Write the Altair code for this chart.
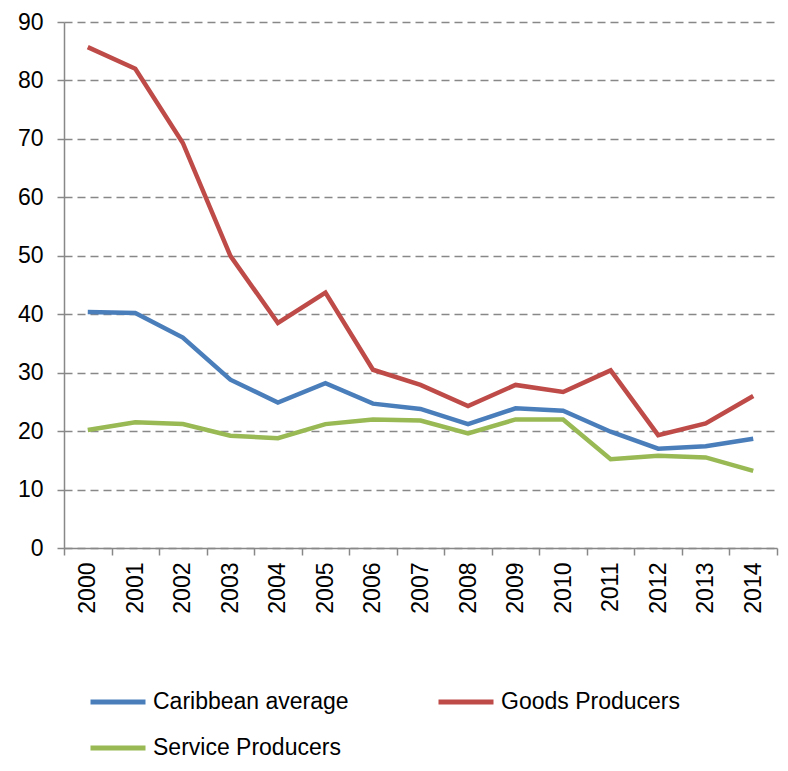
import altair as alt
import pandas as pd

years = [str(y) for y in range(2000, 2015)]
caribbean = [40.4, 40.2, 36.0, 28.8, 24.9, 28.2, 24.7, 23.8, 21.2, 23.9, 23.5, 19.9, 17.0, 17.4, 18.7]
goods = [85.7, 82.0, 69.3, 50.0, 38.5, 43.7, 30.5, 27.9, 24.3, 27.9, 26.7, 30.4, 19.3, 21.3, 26.0]
service = [20.2, 21.5, 21.2, 19.2, 18.8, 21.2, 22.0, 21.8, 19.6, 22.0, 22.0, 15.2, 15.8, 15.5, 13.2]

series = ["Caribbean average", "Goods Producers", "Service Producers"]
colors = ["#4A7EBB", "#BE4B48", "#98B954"]

rows = []
for name, vals in zip(series, [caribbean, goods, service]):
    for y, v in zip(years, vals):
        rows.append({"Year": y, "Value": v, "Series": name})
df = pd.DataFrame(rows)

font = "Liberation Sans"
fs = 23

chart = alt.Chart(df).mark_line(strokeWidth=4.5).encode(
    x=alt.X("Year:O", bandPosition=0.5,
            scale=alt.Scale(type="band", paddingInner=0, paddingOuter=0),
            axis=alt.Axis(title=None, labelAngle=-90, labelFontSize=fs, labelFont=font,
                          labelColor="#000", labelPadding=7, tickBand="extent",
                          tickSize=7, tickColor="#888", domainColor="#888",
                          domainWidth=1.5, tickWidth=1.5, grid=False)),
    y=alt.Y("Value:Q", scale=alt.Scale(domain=[0, 90], nice=False),
            axis=alt.Axis(title=None, values=list(range(0, 91, 10)), labelFontSize=fs,
                          labelFont=font, labelColor="#000", labelPadding=14,
                          tickSize=7, tickColor="#888", domainColor="#888",
                          domainWidth=1.5, tickWidth=1.5,
                          grid=True, gridColor="#888", gridDash=[8, 5], gridWidth=1.3)),
    color=alt.Color("Series:N", scale=alt.Scale(domain=series, range=colors),
                    legend=alt.Legend(title=None, orient="none", legendX=24, legendY=650,
                                      direction="horizontal", columns=2, columnPadding=79,
                                      rowPadding=4, padding=0,
                                      symbolType="stroke", symbolSize=3025,
                                      symbolStrokeWidth=5, labelFontSize=fs,
                                      labelFont=font, labelColor="#000", labelOffset=5,
                                      labelLimit=400)),
).properties(
    width=713, height=526,
    autosize=alt.AutoSizeParams(type="none"),
    padding={"left": 56, "top": 14, "right": 3, "bottom": 215},
).configure_view(stroke=None)

chart.save("out.html", embed_options={"renderer": "svg", "actions": False})
